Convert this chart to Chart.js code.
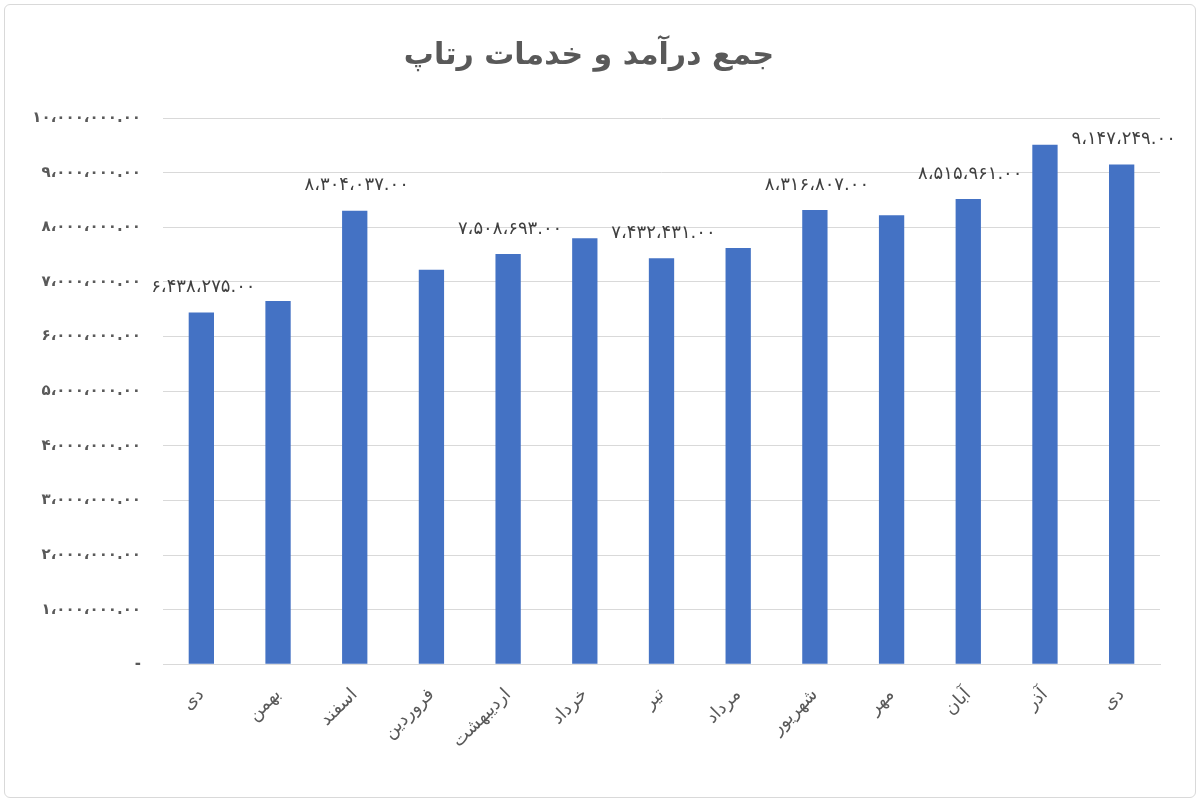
<!DOCTYPE html>
<html>
<head>
<meta charset="utf-8">
<script src="https://cdn.jsdelivr.net/npm/chart.js@4"></script>
<style>
  body { margin: 0; background: #fff; }
  .frame { position: absolute; left: 4px; top: 4px; width: 1190px; height: 792px; border: 1px solid #d9d9d9; border-radius: 6px; }
  canvas { position: absolute; left: 0; top: 0; }
</style>
</head>
<body>
<div class="frame"></div>
<canvas id="chart" width="1200" height="802"></canvas>
<script>
// ماه‌ها
const months = ['دی', 'بهمن', 'اسفند', 'فروردین', 'اردیبهشت', 'خرداد', 'تیر', 'مرداد', 'شهریور', 'مهر', 'آبان', 'آذر', 'دی'];
// جمع درآمد و خدمات (ریال)
const revenue = [6438275, 6650000, 8304037, 7220000, 7508693, 7800000, 7432431, 7620000, 8316807, 8220000, 8515961, 9510000, 9147249];
// کدام ستون‌ها برچسب دارند
const labeled = [0, 2, 4, 6, 8, 10, 12];

const faDigits = '۰۱۲۳۴۵۶۷۸۹';
function toFa(n) {
  const s = Math.round(n).toString().replace(/\B(?=(\d{3})+(?!\d))/g, '،') + '.۰۰';
  return '\u200E' + s.replace(/\d/g, d => faDigits[d]);
}

const valueLabels = {
  id: 'valueLabels',
  afterDatasetsDraw(chart) {
    const { ctx } = chart;
    const meta = chart.getDatasetMeta(0);
    ctx.save();
    ctx.font = '18px "DejaVu Sans"';
    ctx.fillStyle = '#404040';
    ctx.textAlign = 'center';
    ctx.textBaseline = 'bottom';
    ctx.direction = 'ltr';
    labeled.forEach(i => {
      const bar = meta.data[i];
      ctx.fillText(toFa(revenue[i]), bar.x + 2, bar.y - 16);
    });
    ctx.restore();
  }
};

new Chart(document.getElementById('chart'), {
  type: 'bar',
  data: {
    labels: months,
    datasets: [{
      data: revenue,
      backgroundColor: '#4472C4',
      barPercentage: 0.33,
      categoryPercentage: 1
    }]
  },
  options: {
    responsive: false,
    animation: false,
    layout: { padding: { left: 18, right: 40, top: 10, bottom: 38 } },
    plugins: {
      legend: { display: false },
      tooltip: { enabled: false },
      title: {
        display: true,
        text: 'جمع درآمد و خدمات رتاپ',
        font: { family: '"DejaVu Sans"', size: 30, weight: 'bold' },
        color: '#595959',
        padding: { top: 28, bottom: 44 }
      }
    },
    scales: {
      y: {
        min: 0,
        max: 10000000,
        afterFit: s => { s.width = 145; },
        ticks: {
          stepSize: 1000000,
          font: { family: '"DejaVu Sans"', size: 15, weight: 'bold' },
          color: '#595959',
          padding: 22,
          callback: v => v === 0 ? '-' : toFa(v)
        },
        grid: { color: '#d9d9d9', drawTicks: false },
        border: { display: false }
      },
      x: {
        ticks: {
          font: { family: '"DejaVu Sans"', size: 18 },
          color: '#595959',
          minRotation: 45,
          maxRotation: 45,
          padding: 12
        },
        grid: { display: false },
        border: { color: '#d9d9d9' }
      }
    }
  },
  plugins: [valueLabels]
});
</script>
</body>
</html>
